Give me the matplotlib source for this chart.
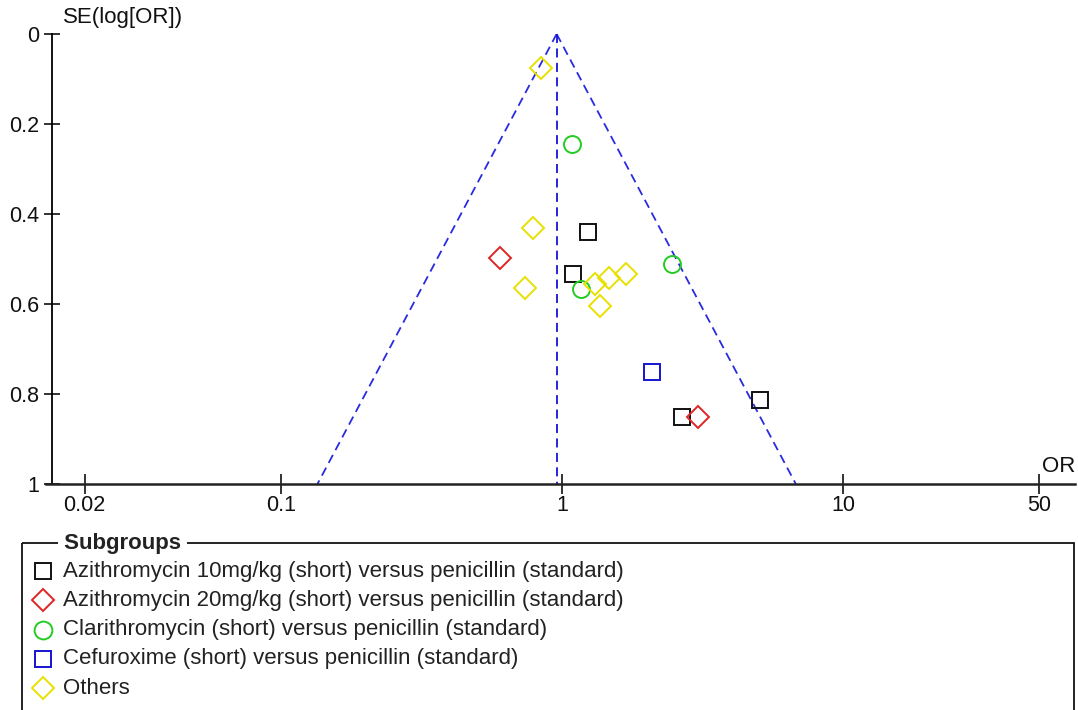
import numpy as np
import matplotlib
matplotlib.use("Agg")
import matplotlib.pyplot as plt
from matplotlib.patches import Rectangle

plt.rcParams['font.family'] = ['Liberation Sans', 'DejaVu Sans']

# subgroups of trials: odds ratio and SE(log OR)
groups = [
    "Azithromycin 10mg/kg (short) versus penicillin (standard)",
    "Azithromycin 20mg/kg (short) versus penicillin (standard)",
    "Clarithromycin (short) versus penicillin (standard)",
    "Cefuroxime (short) versus penicillin (standard)",
    "Others",
]
or_azi10 = [1.24, 1.09, 2.67, 5.07]
se_azi10 = [0.44, 0.533, 0.851, 0.813]
or_azi20 = [0.60, 3.05]
se_azi20 = [0.498, 0.851]
or_clari = [1.085, 1.17, 2.46]
se_clari = [0.244, 0.567, 0.511]
or_cefur = [2.09]
se_cefur = [0.751]
or_other = [0.84, 0.79, 0.74, 1.31, 1.47, 1.69, 1.365]
se_other = [0.0756, 0.431, 0.564, 0.556, 0.542, 0.533, 0.604]

pooled_or = 0.957
x_ticks = [0.02, 0.1, 1, 10, 50]
x_ticklabels = ["0.02", "0.1", "1", "10", "50"]
y_ticks = [0, 0.2, 0.4, 0.6, 0.8, 1]
y_ticklabels = ["0", "0.2", "0.4", "0.6", "0.8", "1"]

series = [
    (or_azi10, se_azi10, 's', '#111111', 11.5),
    (or_azi20, se_azi20, 'D', '#e02424', 11.0),
    (or_clari, se_clari, 'o', '#22cc22', 12.2),
    (or_cefur, se_cefur, 's', '#1414d0', 11.5),
    (or_other, se_other, 'D', '#e8e000', 11.0),
]

W, H = 1078, 710
fs = 16
fig = plt.figure(figsize=(W / 100, H / 100), dpi=100)
ax = fig.add_axes([46 / W, 226 / H, 1029 / W, 450 / H])

xl = 10 ** ((46 - 562) / 281)
xr = 10 ** ((1075 - 562) / 281)
ax.set_xscale('log')
ax.set_xlim(xl, xr)
ax.set_ylim(1, 0)

# funnel: pooled estimate with 95% limits
se_line = np.array([0, 1])
lo = np.exp(np.log(pooled_or) - 1.96 * se_line)
hi = np.exp(np.log(pooled_or) + 1.96 * se_line)
ax.plot(lo, se_line, color='#2a2ae0', lw=1.3, ls=(0, (5, 3)))
ax.plot(hi, se_line, color='#2a2ae0', lw=1.3, ls=(0, (5, 3)))
ax.plot([pooled_or, pooled_or], [0, 1], color='#1515d8', lw=1.3, ls=(0, (5, 3)))

for xs, ys, m, c, ms in series:
    ax.plot(xs, ys, ls='none', marker=m, ms=ms, mfc='none', mec=c, mew=1.4, clip_on=False)

for s in ['top', 'right']:
    ax.spines[s].set_visible(False)
ax.spines['left'].set_position(('data', 10 ** ((52 - 562) / 281)))
ax.spines['left'].set_linewidth(1.3)
ax.spines['bottom'].set_linewidth(1.8)
ax.spines['bottom'].set_color('#222222')

ax.set_xticks(x_ticks)
ax.set_xticklabels(x_ticklabels)
ax.xaxis.set_minor_locator(matplotlib.ticker.NullLocator())
ax.set_yticks(y_ticks)
ax.set_yticklabels(y_ticklabels)
ax.tick_params(axis='x', direction='inout', length=14, width=1.2, labelsize=15.5, pad=1, colors='#111111')
ax.tick_params(axis='y', direction='inout', length=12, width=1.2, labelsize=15.5, pad=3, colors='#111111')

fig.text(63 / W, 1 - 18 / H, "SE(log[OR])", fontsize=fs, va='center', ha='left', color='#111111')
fig.text(1075 / W, 1 - 466 / H, "OR", fontsize=fs, va='center', ha='right', color='#111111')

# legend panel
lg = fig.add_axes([0, 0, 1, 1])
lg.set_xlim(0, W)
lg.set_ylim(H, 0)
lg.axis('off')
lg.add_patch(Rectangle((22, 543), 1052, 200, fill=False, ec='#111111', lw=1.3, clip_on=False))
lg.text(58, 543, " Subgroups ", fontsize=fs, fontweight='bold', va='center', ha='left',
        color='#222222', bbox=dict(fc='white', ec='none', pad=0))
for i, (name, (xs, ys, m, c, ms)) in enumerate(zip(groups, series)):
    yy = 571 + i * 29.3
    lg.plot([43], [yy], ls='none', marker=m, ms=ms * 1.05, mfc='none', mec=c, mew=1.4)
    lg.text(63, yy, name, fontsize=fs, va='center', ha='left', color='#222222')

fig.savefig('out.png', dpi=100)
